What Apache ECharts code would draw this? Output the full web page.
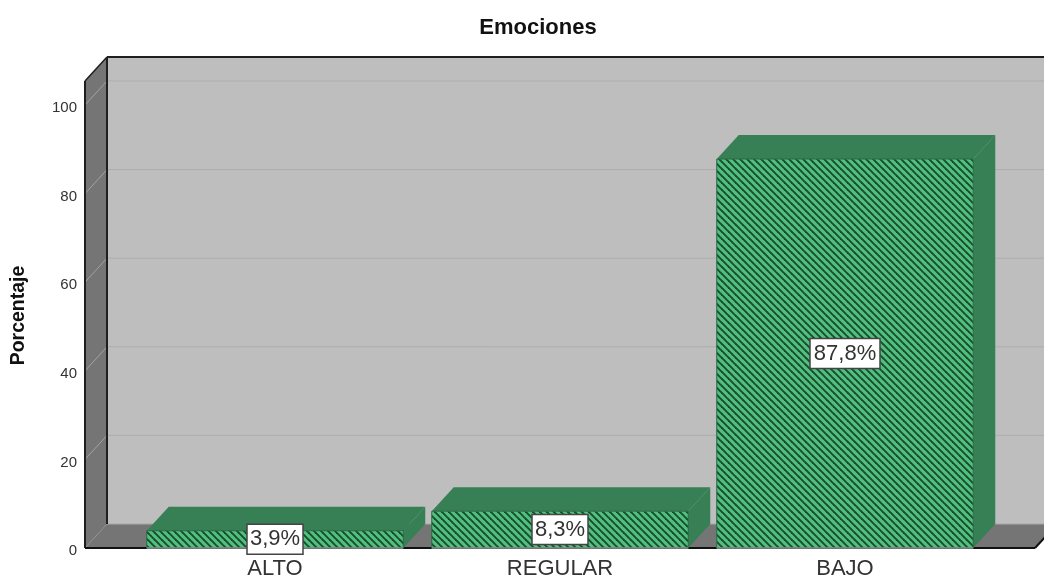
<!DOCTYPE html>
<html>
<head>
<meta charset="utf-8">
<style>html,body{margin:0;padding:0;background:#fff}#chart{width:1044px;height:575px}</style>
<script src="https://cdn.jsdelivr.net/npm/echarts@6/dist/echarts.min.js"></script>
</head>
<body>
<div id="chart"></div>
<script>
const categories = ['ALTO', 'REGULAR', 'BAJO'];
const percentages = [3.9, 8.3, 87.8];
const yTicks = [0, 20, 40, 60, 80, 100];
const yCeiling = 105.4;

// Oblique depth of the box, and how far the floor runs past the category bands.
const DEPTH_X = 22, DEPTH_Y = 24, SIDE_MARGIN = 47.5;
const FONT = '"Liberation Sans", Arial, sans-serif';

function hatchTile() {
  const size = 7, c = document.createElement('canvas');
  c.width = c.height = size;
  const g = c.getContext('2d');
  g.fillStyle = '#4fc07e';
  g.fillRect(0, 0, size, size);
  g.strokeStyle = '#1c4a2f';
  g.lineWidth = 1.9;
  for (let x = -size; x <= size; x += size) {
    g.beginPath();
    g.moveTo(x - 2, -2);
    g.lineTo(x + size + 2, size + 2);
    g.stroke();
  }
  return c;
}
const hatch = { image: hatchTile(), repeat: 'repeat' };

function poly(points, fill, z2) {
  return { type: 'polygon', z2: z2 || 0, shape: { points }, style: { fill } };
}
function seg(x1, y1, x2, y2, stroke, lineWidth) {
  return { type: 'line', shape: { x1, y1, x2, y2 }, style: { stroke, lineWidth }, z2: 2 };
}

// Back wall, side wall, floor and their grid lines.
function renderBox(params, api) {
  const cs = params.coordSys;
  const y0 = api.coord([0, 0])[1];
  const yTop = api.coord([0, yCeiling])[1];
  const xL = cs.x - SIDE_MARGIN, xR = cs.x + cs.width + SIDE_MARGIN;
  const bxL = xL + DEPTH_X, bxR = xR + DEPTH_X;
  const kids = [
    poly([[bxL, yTop - DEPTH_Y], [bxR, yTop - DEPTH_Y], [bxR, y0 - DEPTH_Y], [bxL, y0 - DEPTH_Y]], '#bebebe'),
    poly([[xL, yTop], [bxL, yTop - DEPTH_Y], [bxL, y0 - DEPTH_Y], [xL, y0]], '#757575'),
    poly([[xL, y0], [bxL, y0 - DEPTH_Y], [bxR, y0 - DEPTH_Y], [xR, y0]], '#757575')
  ];
  yTicks.slice(1).forEach(function (t) {
    const y = api.coord([0, t])[1];
    kids.push(seg(xL, y, bxL, y - DEPTH_Y, '#a3a3a3', 1));
    kids.push(seg(bxL, y - DEPTH_Y, bxR, y - DEPTH_Y, '#adadad', 1));
  });
  kids.push(seg(bxL, y0 - DEPTH_Y, bxR, y0 - DEPTH_Y, '#a8a8a8', 1));
  kids.push(seg(xL, yTop, xL, y0, '#1f1f1f', 2));
  kids.push(seg(bxL, yTop - DEPTH_Y, bxL, y0 - DEPTH_Y, '#1f1f1f', 2));
  kids.push(seg(bxL, yTop - DEPTH_Y, bxR, yTop - DEPTH_Y, '#1f1f1f', 2));
  kids.push(seg(xL, yTop, bxL, yTop - DEPTH_Y, '#1f1f1f', 1.5));
  kids.push(seg(xL, y0, xR, y0, '#111111', 2));
  kids.push(seg(xR, y0, bxR, y0 - DEPTH_Y, '#111111', 2));
  return { type: 'group', children: kids };
}

// One hatched 3D column per category, with its boxed percentage.
function renderBar(params, api) {
  const v = api.value(1);
  const top = api.coord([api.value(0), v]);
  const base = api.coord([api.value(0), 0]);
  const w = api.size([1, 0])[0] * 0.9;
  const x0 = top[0] - w / 2, x1 = top[0] + w / 2;
  const yT = top[1], yB = base[1];
  const label = v.toFixed(1).replace('.', ',') + '%';
  const boxW = label.length > 4 ? 70 : 56, boxH = 30;
  const yC = (yT + yB) / 2;
  return {
    type: 'group',
    children: [
      poly([[x0, yT], [x0 + DEPTH_X, yT - DEPTH_Y], [x1 + DEPTH_X, yT - DEPTH_Y], [x1, yT]], '#377f55'),
      poly([[x1, yT], [x1 + DEPTH_X, yT - DEPTH_Y], [x1 + DEPTH_X, yB - DEPTH_Y], [x1, yB]], '#377f55'),
      { type: 'rect', shape: { x: x0, y: yT, width: w, height: yB - yT },
        style: { fill: hatch, stroke: '#2a6b45', lineWidth: 1 } },
      seg(x0, yB, x1, yB, '#8c8c8c', 1.5),
      { type: 'rect', shape: { x: top[0] - boxW / 2, y: yC - boxH / 2, width: boxW, height: boxH }, z2: 5,
        style: { fill: '#ffffff', stroke: '#444444', lineWidth: 1.5 } },
      { type: 'text', z2: 6, x: top[0], y: yC,
        style: { text: label, fill: '#333333', font: '22px ' + FONT, align: 'center', verticalAlign: 'middle' } }
    ]
  };
}

const chart = echarts.init(document.getElementById('chart'), null, { renderer: 'canvas' });
chart.setOption({
  animation: false,
  backgroundColor: '#ffffff',
  title: {
    text: 'Emociones', left: 533, top: 12, textAlign: 'center',
    textStyle: { fontFamily: FONT, fontSize: 22, fontWeight: 'bold', color: '#111111' }
  },
  grid: { left: 132.5, width: 855, top: 105, height: 443, outerBoundsMode: 'none' },
  xAxis: {
    type: 'category', data: categories,
    axisLine: { show: false }, axisTick: { show: false },
    axisLabel: { color: '#333333', fontFamily: FONT, fontSize: 22, margin: 10 }
  },
  yAxis: {
    type: 'value', min: 0, max: 100, interval: 20, offset: SIDE_MARGIN,
    axisLine: { show: false }, axisTick: { show: false }, splitLine: { show: false },
    axisLabel: {
      margin: 8,
      formatter: '{t|{value}}',
      rich: { t: { color: '#333333', fontFamily: FONT, fontSize: 15, padding: [6, 0, 0, 0] } }
    },
    name: 'Porcentaje', nameLocation: 'middle', nameGap: 56,
    nameTextStyle: { fontFamily: FONT, fontSize: 19.5, fontWeight: 'bold', color: '#111111', padding: [0, 0, 0, 22] }
  },
  series: [
    { type: 'custom', z: 1, silent: true, clip: false, renderItem: renderBox, data: [[0, 0]] },
    { type: 'custom', z: 2, silent: true, clip: false, renderItem: renderBar,
      data: categories.map(function (c, i) { return [i, percentages[i]]; }) }
  ]
});
</script>
</body>
</html>
